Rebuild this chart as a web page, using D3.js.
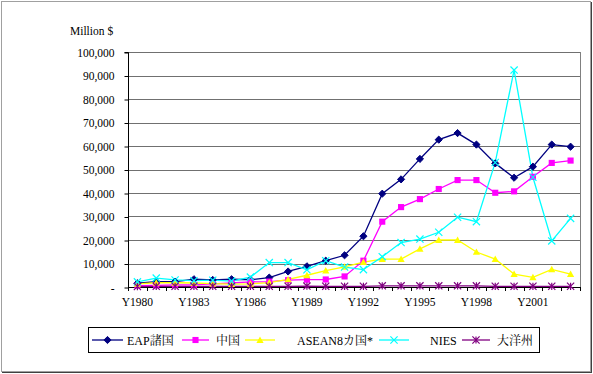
<!DOCTYPE html>
<html><head><meta charset="utf-8">
<script src="https://cdn.jsdelivr.net/npm/d3@7"></script>
<style>
body{margin:0;background:#fff;}
svg{display:block;}
</style>
</head><body>
<svg id="c" width="593" height="374"></svg>
<script>
const years = ["Y1980","Y1981","Y1982","Y1983","Y1984","Y1985","Y1986","Y1987","Y1988","Y1989","Y1990","Y1991","Y1992","Y1993","Y1994","Y1995","Y1996","Y1997","Y1998","Y1999","Y2000","Y2001","Y2002","Y2003"];
const xTickLabels = ["Y1980","Y1983","Y1986","Y1989","Y1992","Y1995","Y1998","Y2001"];
const yTicks = [0,10000,20000,30000,40000,50000,60000,70000,80000,90000,100000];
const seriesNames = ["EAP諸国","中国","ASEAN8カ国*","NIES","大洋州"];
const eap     = [1600,2300,2300,3300,3000,3300,3100,4000,6600,8800,11200,13500,21600,39700,45800,54500,62700,65500,60600,52600,46500,51200,60600,59700];
const china   = [600,700,900,900,1300,1700,2200,2300,2900,3100,3200,4500,11200,27800,34000,37400,41700,45500,45500,40100,40700,46900,52800,53800];
const asean   = [1300,1800,1800,1700,1400,1200,1300,1900,3200,5000,7000,8600,10600,11900,11900,16200,20000,20000,14900,11900,5500,4100,7500,5500];
const nies    = [2200,3800,3000,2700,2900,2500,4200,10400,10400,7300,11200,8500,7400,12900,18900,20400,23300,29700,27800,53000,92300,46700,19600,29200];
const oceania = [200,300,300,300,300,300,300,300,300,400,300,300,300,500,500,500,500,500,500,300,300,300,300,300];
const seriesData = [eap, china, asean, nies, oceania];
const colors = ["#000080","#ff00ff","#ffff00","#00ffff","#800080"];
const markers = ["diamond","square","triangle","x","asterisk"];
const FONT = "Liberation Serif, Times New Roman, Noto Serif CJK JP, serif";

const svg = d3.select("#c");
// outer frame
svg.append("rect").attr("x",1.5).attr("y",1.5).attr("width",589).attr("height",370)
  .attr("fill","#fff").attr("stroke","#a0a0a0");
svg.append("line").attr("x1",591.5).attr("x2",591.5).attr("y1",2).attr("y2",372).attr("stroke","#404040");
svg.append("line").attr("x1",2).attr("x2",592).attr("y1",372.5).attr("y2",372.5).attr("stroke","#404040");

const L=128, R=580, T=52, B=287;
const x = d3.scaleBand().domain(years).range([L,R]);
const y = d3.scaleLinear().domain([0,100000]).range([B,T]);

// gridlines
svg.append("g").selectAll("line").data(yTicks.slice(1)).join("line")
  .attr("x1",L).attr("x2",R).attr("y1",d=>Math.round(y(d))+0.5).attr("y2",d=>Math.round(y(d))+0.5)
  .attr("stroke","#707070").attr("stroke-width",1);
// right border
svg.append("line").attr("x1",R+0.5).attr("x2",R+0.5).attr("y1",T).attr("y2",B).attr("stroke","#808080");

// y axis
const yAxis = d3.axisLeft(y).tickValues(yTicks).tickSize(4).tickPadding(10)
  .tickFormat(d=> d===0 ? "-" : d3.format(",")(d));
const gy = svg.append("g").attr("transform",`translate(${L+0.5},0.5)`).call(yAxis);
gy.attr("font-family",FONT).attr("font-size",11.5);
gy.selectAll("text").attr("font-family",FONT).attr("font-size",11.5).attr("fill","#000");
gy.selectAll("line,path").attr("stroke","#000");
gy.select(".domain").attr("d",`M-4,${T}H0V${B}`);

// x axis
const xAxis = d3.axisBottom(x).tickSize(0).tickPadding(10)
  .tickValues(xTickLabels);
const gx = svg.append("g").attr("transform",`translate(0,${B+0.5})`).call(xAxis);
gx.attr("font-family",FONT).attr("font-size",11.5);
gx.selectAll("text").attr("font-family",FONT).attr("font-size",11.5).attr("fill","#000");
gx.select(".domain").attr("stroke","#000").attr("d",`M${L},0H${R}`);
// category tick marks
svg.append("g").selectAll("line").data(years.concat(["end"])).join("line")
  .attr("x1",(d,i)=>Math.round(L+i*x.step())+0.5).attr("x2",(d,i)=>Math.round(L+i*x.step())+0.5)
  .attr("y1",B).attr("y2",B+4).attr("stroke","#000");

function drawMarker(g, type, color, s){
  if(type==="diamond"){
    g.append("path").attr("d",`M0,${-s}L${s},0L0,${s}L${-s},0Z`).attr("fill",color).attr("stroke",color);
  } else if(type==="square"){
    g.append("rect").attr("x",-s*0.85).attr("y",-s*0.85).attr("width",s*1.7).attr("height",s*1.7).attr("fill",color);
  } else if(type==="triangle"){
    g.append("path").attr("d",`M0,${-s}L${s},${s*0.8}L${-s},${s*0.8}Z`).attr("fill",color);
  } else if(type==="x"){
    g.append("path").attr("d",`M${-s},${-s}L${s},${s}M${-s},${s}L${s},${-s}`).attr("stroke",color).attr("stroke-width",1.2).attr("fill","none");
  } else if(type==="asterisk"){
    g.append("path").attr("d",`M${-s},${-s}L${s},${s}M${-s},${s}L${s},${-s}M0,${-s}V${s}`).attr("stroke",color).attr("stroke-width",1.2).attr("fill","none");
  }
}

const line = d3.line().x((d,i)=>x(years[i])+x.bandwidth()/2).y(d=>y(d));
seriesData.forEach((data,k)=>{
  svg.append("path").datum(data).attr("d",line).attr("fill","none")
    .attr("stroke",colors[k]).attr("stroke-width",1.3);
});
seriesData.forEach((data,k)=>{
  data.forEach((v,i)=>{
    const g = svg.append("g").attr("transform",`translate(${x(years[i])+x.bandwidth()/2},${y(v)})`);
    drawMarker(g, markers[k], colors[k], 3.6);
  });
});

// Million $
svg.append("text").attr("x",70).attr("y",35).attr("font-family",FONT).attr("font-size",11.5).text("Million $");

// legend
svg.append("rect").attr("x",88.5).attr("y",327.5).attr("width",451).attr("height",25)
  .attr("fill","#fff").attr("stroke","#000");
const legLines = [[92,123],[182,209],[245,275],[379,409],[462,490]];
const legText = [127,216,297,430,497];
const ly = 340;
seriesNames.forEach((n,k)=>{
  svg.append("line").attr("x1",legLines[k][0]).attr("x2",legLines[k][1]).attr("y1",ly).attr("y2",ly)
    .attr("stroke",colors[k]).attr("stroke-width",1.3);
  const g = svg.append("g").attr("transform",`translate(${(legLines[k][0]+legLines[k][1])/2},${ly})`);
  drawMarker(g, markers[k], colors[k], 3.6);
  svg.append("text").attr("x",legText[k]).attr("y",ly+4.5).attr("font-family",FONT).attr("font-size",12).text(n);
});
</script>
</body></html>
